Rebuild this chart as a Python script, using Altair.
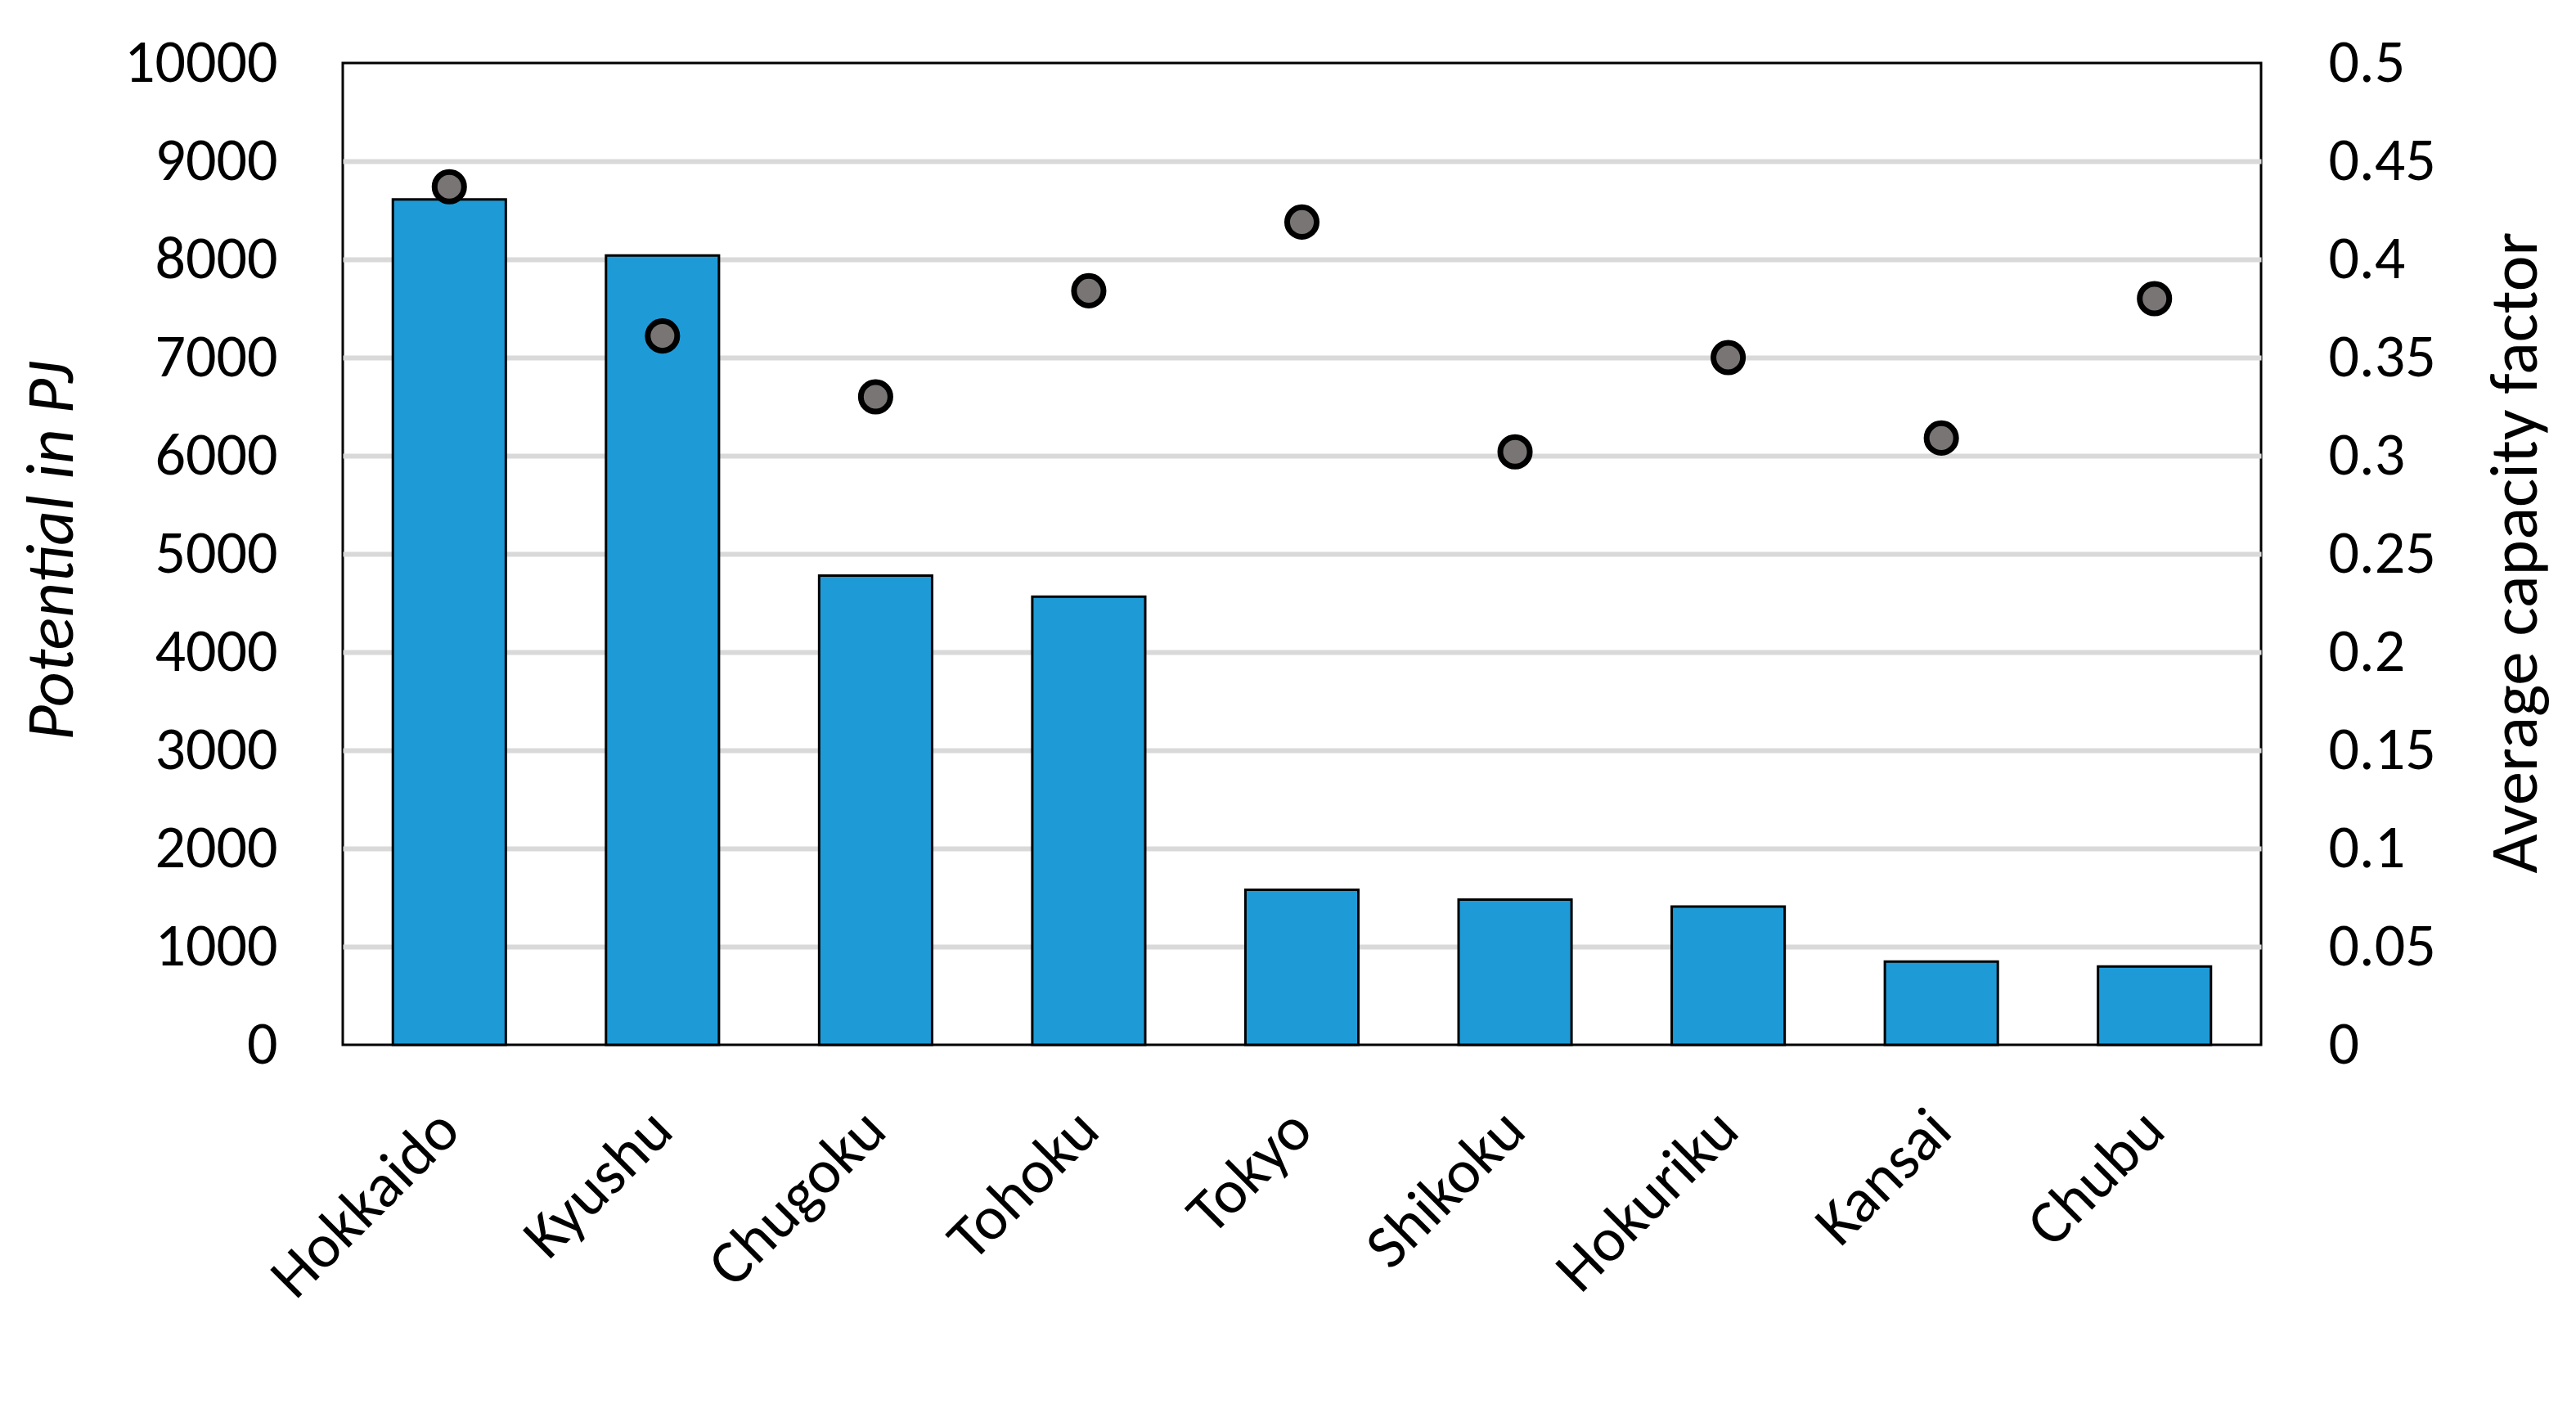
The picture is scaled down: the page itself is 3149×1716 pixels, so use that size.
import altair as alt
import pandas as pd

regions = ["Hokkaido", "Kyushu", "Chugoku", "Tohoku", "Tokyo",
           "Shikoku", "Hokuriku", "Kansai", "Chubu"]
potential_pj = [8610, 8040, 4780, 4565, 1580, 1480, 1408, 848, 797]
capacity_factor = [0.437, 0.361, 0.330, 0.384, 0.419, 0.302, 0.350, 0.309, 0.380]
left_ticks = [0, 1000, 2000, 3000, 4000, 5000, 6000, 7000, 8000, 9000, 10000]
right_ticks = [0, 0.05, 0.1, 0.15, 0.2, 0.25, 0.3, 0.35, 0.4, 0.45, 0.5]

df = pd.DataFrame({"region": regions, "potential": potential_pj, "cf": capacity_factor})

FONT = "Carlito, Lato, sans-serif"
FS = 74
XFS = 76
TFS = 83

x_enc = alt.X(
    "region:N", sort=regions, title=None,
    scale=alt.Scale(paddingInner=0.47, paddingOuter=0.235),
    axis=alt.Axis(labelAngle=315, labelAlign="right", labelBaseline="middle",
                  labelPadding=92, ticks=False, tickSize=0, domain=False,
                  labelFont=FONT, labelFontSize=XFS, labelColor="black",
                  labelLimit=0, grid=False),
)

bars = alt.Chart(df).mark_bar(color="#1E9BD7", stroke="black", strokeWidth=3).encode(
    x=x_enc,
    y=alt.Y("potential:Q", title="Potential in PJ",
            scale=alt.Scale(domain=[0, 10000], nice=False, zero=True),
            axis=alt.Axis(values=left_ticks, format="d", orient="left",
                          ticks=False, tickSize=0, domain=False,
                          labelPadding=80, labelFont=FONT, labelFontSize=FS,
                          labelColor="black", labelLimit=0,
                          grid=True, gridColor="#D9D9D9", gridWidth=6,
                          gridOpacity={"condition": {"test": "datum.value === 0 || datum.value === 10000", "value": 0}, "value": 1},
                          titleFont=FONT, titleFontSize=TFS, titleFontStyle="italic",
                          titleFontWeight="normal", titleColor="black",
                          titleAngle=270, titleX=-356, titleY=596,
                          titleAlign="center", titleBaseline="middle")),
)

points = alt.Chart(df).mark_point(filled=True, shape="circle", size=1300,
                                   fill="#7A7575", stroke="black", strokeWidth=7,
                                   opacity=1).encode(
    x=alt.X("region:N", sort=regions),
    y=alt.Y("cf:Q", title="Average capacity factor",
            scale=alt.Scale(domain=[0, 0.5], nice=False, zero=True),
            axis=alt.Axis(values=right_ticks, format=".2~f", orient="right",
                          ticks=False, tickSize=0, domain=False, grid=False,
                          labelPadding=82, labelFont=FONT, labelFontSize=FS,
                          labelColor="black", labelLimit=0,
                          titleFont=FONT, titleFontSize=TFS, titleFontWeight="normal",
                          titleColor="black",
                          titleAngle=270, titleX=311, titleY=598,
                          titleAlign="center", titleBaseline="middle")),
)

chart = alt.layer(bars, points).resolve_scale(y="independent").properties(
    width=2345, height=1200,
    autosize=alt.AutoSizeParams(type="none"),
    padding={"left": 411, "top": 69, "right": 377, "bottom": 431},
    background="white",
).configure_view(stroke="black", strokeWidth=3)

chart.save("out.html", embed_options={"renderer": "svg", "actions": False})
